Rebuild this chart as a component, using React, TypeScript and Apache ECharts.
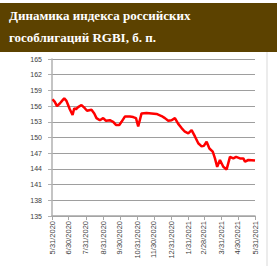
import React, { useEffect, useRef } from "react";
import * as echarts from "echarts";

const titleLines = ["Динамика индекса российских", "гособлигаций RGBI, б. п."];

const startDate = "2020-05-31";
const tickDates = [
  "2020-05-31", "2020-06-30", "2020-07-31", "2020-08-31", "2020-09-30", "2020-10-31",
  "2020-11-30", "2020-12-31", "2021-01-31", "2021-02-28", "2021-03-31", "2021-04-30",
  "2021-05-31",
];

const dates = [
  "2020-06-01", "2020-06-05", "2020-06-09", "2020-06-14", "2020-06-18", "2020-06-22",
  "2020-06-26", "2020-06-29", "2020-07-02", "2020-07-07", "2020-07-10", "2020-07-13",
  "2020-07-17", "2020-07-23", "2020-07-29", "2020-08-02", "2020-08-10", "2020-08-15",
  "2020-08-19", "2020-08-25", "2020-08-31", "2020-09-05", "2020-09-12", "2020-09-18",
  "2020-09-23", "2020-09-29", "2020-10-03", "2020-10-09", "2020-10-18", "2020-10-24",
  "2020-10-29", "2020-11-02", "2020-11-08", "2020-11-17", "2020-11-26", "2020-12-05",
  "2020-12-14", "2020-12-20", "2020-12-26", "2021-01-01", "2021-01-07", "2021-01-13",
  "2021-01-19", "2021-01-25", "2021-01-31", "2021-02-06", "2021-02-12", "2021-02-18",
  "2021-02-24", "2021-02-28", "2021-03-05", "2021-03-10", "2021-03-16", "2021-03-20",
  "2021-03-24", "2021-03-29", "2021-04-04", "2021-04-10", "2021-04-16", "2021-04-22",
  "2021-04-27", "2021-05-04", "2021-05-10", "2021-05-13", "2021-05-19", "2021-05-31",
];

const values = [
  157.3, 156.8, 156.0, 156.5, 157.0, 157.5,
  157.0, 156.2, 155.4, 154.3, 155.6, 155.4,
  155.8, 156.2, 155.6, 155.1, 155.3, 154.6,
  153.7, 153.3, 153.7, 153.2, 153.3, 153.0,
  152.4, 152.4, 153.0, 154.0, 154.0, 153.9,
  153.7, 152.1, 154.6, 154.7, 154.6, 154.5,
  154.1, 153.7, 153.2, 153.3, 153.7, 152.6,
  151.8, 151.1, 150.8, 151.4, 150.2, 148.9,
  148.3, 148.4, 149.2, 147.9, 147.3, 146.0,
  144.4, 145.7, 144.4, 143.9, 146.3, 146.0,
  146.3, 146.0, 146.0, 145.4, 145.7, 145.6,
];

const yMin = 135;
const yMax = 165;
const yStep = 3;

const DAY = 86400000;
const t0 = Date.parse(startDate + "T00:00:00Z");
function dayIndex(iso: string): number {
  return Math.round((Date.parse(iso + "T00:00:00Z") - t0) / DAY);
}
function labelFor(dayIdx: number): string {
  const d = new Date(t0 + dayIdx * DAY);
  return `${d.getUTCMonth() + 1}/${d.getUTCDate()}/${d.getUTCFullYear()}`;
}

export default function App() {
  const ref = useRef<HTMLDivElement>(null);
  useEffect(() => {
    if (!ref.current) return;
    const chart = echarts.init(ref.current, undefined, { renderer: "svg" });
    const tickIdx = tickDates.map(dayIndex);
    const seriesData = dates.map((d, i) => [dayIndex(d), values[i]]);
    chart.setOption({
      animation: false,
      backgroundColor: "#ffffff",
      grid: { left: 52, right: 22, top: 59, bottom: 50, containLabel: false },
      graphic: [
        { type: "rect", left: 0, top: 3, shape: { width: 277, height: 49 }, style: { fill: "#5c4200" }, silent: true },
        {
          type: "text", left: 9, top: 9,
          style: { text: titleLines[0], fill: "#ffffff", font: "bold 13px 'Liberation Serif', serif" },
        },
        {
          type: "text", left: 9, top: 31,
          style: { text: titleLines[1], fill: "#ffffff", font: "bold 13px 'Liberation Serif', serif" },
        },
        {
          type: "line", shape: { x1: 267, y1: 52, x2: 267, y2: 266 },
          style: { stroke: "#d9d9d9", lineWidth: 1 },
        },
      ],
      xAxis: {
        type: "value",
        min: tickIdx[0],
        max: tickIdx[tickIdx.length - 1],
        axisLine: { show: true, lineStyle: { color: "#a6a6a6", width: 1.5 } },
        axisTick: { show: true, customValues: tickIdx, length: 4, lineStyle: { color: "#a6a6a6" } },
        axisLabel: {
          customValues: tickIdx,
          hideOverlap: false,
          showMinLabel: true,
          showMaxLabel: true,
          rotate: 90,
          margin: 5,
          formatter: (v: number) => labelFor(v),
          color: "#404040",
          fontSize: 7.5,
          fontFamily: "'Liberation Sans', Arial, sans-serif",
        },
        splitLine: { show: false },
      },
      yAxis: {
        type: "value",
        min: yMin,
        max: yMax,
        interval: yStep,
        axisLine: { show: true, lineStyle: { color: "#b0b0b0", width: 1.5 } },
        axisTick: { show: true, length: 4, lineStyle: { color: "#b0b0b0" } },
        axisLabel: {
          margin: 10,
          color: "#404040",
          fontSize: 7,
          fontFamily: "'Liberation Sans', Arial, sans-serif",
        },
        splitLine: { show: true, lineStyle: { color: "#9e9e9e", width: 1 } },
      },
      series: [
        {
          type: "line",
          data: seriesData,
          showSymbol: false,
          symbol: "none",
          lineStyle: { color: "#ff0000", width: 2.5 },
          itemStyle: { color: "#ff0000" },
        },
      ],
    });
    return () => chart.dispose();
  }, []);
  return (
    <div style={{ position: "fixed", left: 0, top: 0, width: 277, height: 266, background: "#fff" }}>
      <div ref={ref} style={{ width: 277, height: 266 }} />
    </div>
  );
}
